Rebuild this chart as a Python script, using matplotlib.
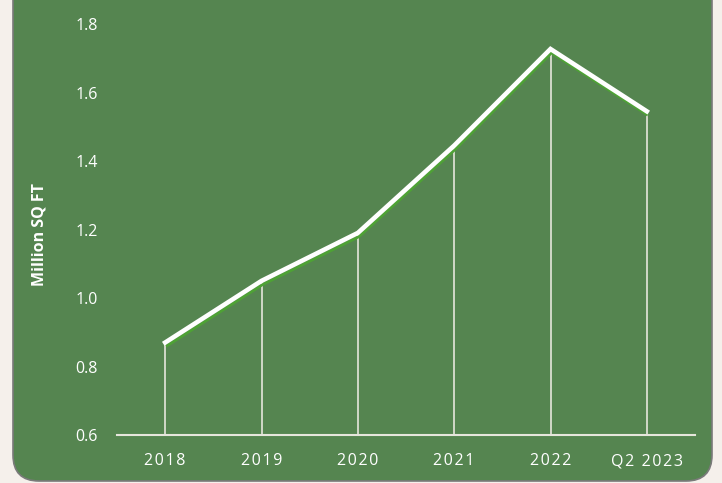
import numpy as np
import matplotlib.pyplot as plt
from matplotlib.patches import FancyBboxPatch
import matplotlib.transforms as mtransforms

years = ['2018', '2019', '2020', '2021', '2022', 'Q2 2023']
sqft = [0.87, 1.05, 1.19, 1.445, 1.727, 1.545]
yticks = [0.6, 0.8, 1.0, 1.2, 1.4, 1.6, 1.8]

bg = '#F5F0EB'
panel = '#558550'
pale = '#E6E6DC'
fonts = ['Open Sans', 'DejaVu Sans']

fig = plt.figure(figsize=(7.22, 4.83), dpi=100)
fig.patch.set_facecolor(bg)

# background panel drawn in pixel units
bg_ax = fig.add_axes([0, 0, 1, 1])
bg_ax.set_xlim(0, 722)
bg_ax.set_ylim(483, 0)
bg_ax.axis('off')
box = FancyBboxPatch((13, -40), 699, 521, boxstyle='round,pad=0,rounding_size=26',
                     facecolor=panel, edgecolor='#7a7a7a', linewidth=1.2)
bg_ax.add_patch(box)

ax = fig.add_axes([117 / 722, 1 - 435 / 483, (695 - 117) / 722, (435 - 24) / 483])
ax.set_facecolor('none')
x = np.arange(len(years))

ax.vlines(x, 0.6, sqft, color=pale, linewidth=1.2, zorder=2)

# green line sits a little below the white one
shift = mtransforms.offset_copy(ax.transData, fig=fig, x=1, y=-3.8, units='dots')
ax.plot(x, sqft, color='#4EA235', linewidth=2.0, transform=shift, zorder=3,
        solid_capstyle='butt', clip_on=False)
ax.plot(x, sqft, color='white', linewidth=3.3, zorder=4, clip_on=False,
        solid_joinstyle='miter')

ax.set_xlim(-0.5, len(years) - 0.5)
ax.set_ylim(0.6, 1.8)
ax.set_yticks(yticks)
ax.set_yticklabels([f'{v:.1f}' for v in yticks])
ax.set_xticks(x)
# letter-spaced category labels
ax.set_xticklabels(['\u200a'.join(y) for y in years])

for s in ['top', 'right', 'left']:
    ax.spines[s].set_visible(False)
ax.spines['bottom'].set_color(pale)
ax.spines['bottom'].set_linewidth(1.5)
ax.tick_params(length=0, colors='white')
ax.tick_params(axis='y', pad=14, labelsize=11.5)
ax.tick_params(axis='x', pad=13, labelsize=11.5)
for lab in ax.get_xticklabels() + ax.get_yticklabels():
    lab.set_fontfamily(fonts)

fig.text(40 / 722, 1 - 235 / 483, 'Million SQ FT', rotation=90, color='white',
         fontsize=11.5, fontweight='bold', ha='center', va='center', family=fonts)

fig.savefig('out.png', dpi=100, facecolor=bg)
